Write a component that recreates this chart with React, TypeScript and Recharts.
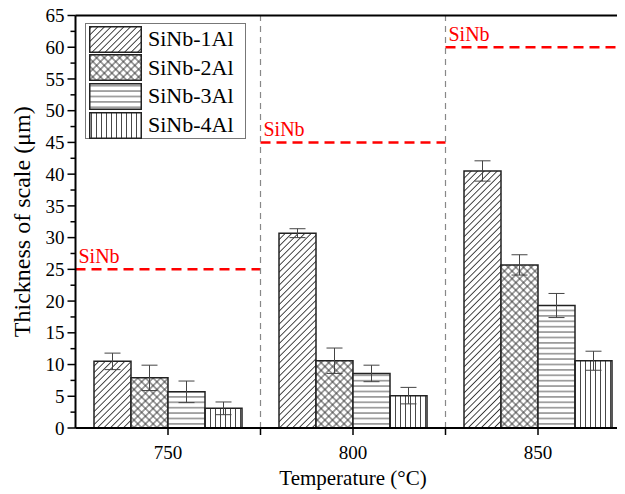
import React from 'react';
import {
  BarChart,
  Bar,
  XAxis,
  YAxis,
  CartesianGrid,
  ErrorBar,
  ReferenceLine,
  ReferenceArea,
  Legend,
} from 'recharts';

const temps = ['750', '800', '850'];
const seriesNames = ['SiNb-1Al', 'SiNb-2Al', 'SiNb-3Al', 'SiNb-4Al'];
const al1 = [10.5, 30.7, 40.5];
const al1Err = [1.3, 0.7, 1.6];
const al2 = [7.9, 10.6, 25.7];
const al2Err = [2.0, 2.0, 1.6];
const al3 = [5.7, 8.6, 19.3];
const al3Err = [1.7, 1.3, 1.9];
const al4 = [3.1, 5.1, 10.6];
const al4Err = [1.0, 1.3, 1.5];
// SiNb reference thickness per temperature
const sinbLevel = [25, 45, 60];
const majorTicks = [0, 5, 10, 15, 20, 25, 30, 35, 40, 45, 50, 55, 60, 65];
const allTicks = [
  0, 2.5, 5, 7.5, 10, 12.5, 15, 17.5, 20, 22.5, 25, 27.5, 30, 32.5, 35, 37.5, 40,
  42.5, 45, 47.5, 50, 52.5, 55, 57.5, 60, 62.5, 65,
];

const data = temps.map((t, i) => ({
  t,
  a1: al1[i],
  e1: al1Err[i],
  a2: al2[i],
  e2: al2Err[i],
  a3: al3[i],
  e3: al3Err[i],
  a4: al4[i],
  e4: al4Err[i],
}));

const FONT = '"Liberation Serif", "Times New Roman", serif';
const W = 640;
const H = 494;
const MARGIN = { top: 15.5, right: 17.5, bottom: 0, left: 0 };
const Y_W = 67.5;
const BAND = (W - MARGIN.left - MARGIN.right - Y_W) / temps.length;

function Patterns({ pre }: { pre: string }) {
  const ink = '#333';
  return (
    <defs>
      <pattern id={`${pre}1`} patternUnits="userSpaceOnUse" width={4.6} height={4.6} patternTransform="rotate(45)">
        <rect width={4.6} height={4.6} fill="#fff" />
        <line x1={2.3} y1={0} x2={2.3} y2={4.6} stroke={ink} strokeWidth={0.9} />
      </pattern>
      <pattern id={`${pre}2`} patternUnits="userSpaceOnUse" width={5.4} height={5.4} patternTransform="rotate(45)">
        <rect width={5.4} height={5.4} fill="#fff" />
        <line x1={2.7} y1={0} x2={2.7} y2={5.4} stroke={ink} strokeWidth={0.9} />
        <line x1={0} y1={2.7} x2={5.4} y2={2.7} stroke={ink} strokeWidth={0.9} />
      </pattern>
      <pattern id={`${pre}3`} patternUnits="userSpaceOnUse" width={10} height={5.4}>
        <rect width={10} height={5.4} fill="#fff" />
        <line x1={0} y1={2.7} x2={10} y2={2.7} stroke={ink} strokeWidth={0.9} />
      </pattern>
      <pattern id={`${pre}4`} patternUnits="userSpaceOnUse" width={5} height={10}>
        <rect width={5} height={10} fill="#fff" />
        <line x1={2.5} y1={0} x2={2.5} y2={10} stroke={ink} strokeWidth={0.9} />
      </pattern>
    </defs>
  );
}

function XTick(props: any) {
  const { x, y, payload } = props;
  return (
    <g>
      <line x1={x} y1={y} x2={x} y2={y + 7} stroke="#000" strokeWidth={1.5} />
      <line x1={x + BAND / 2} y1={y} x2={x + BAND / 2} y2={y + 7} stroke="#000" strokeWidth={1.5} />
      <text x={x} y={y + 31} textAnchor="middle" style={{ fontSize: 19, fontFamily: FONT }} fill="#000">
        {payload.value}
      </text>
    </g>
  );
}

function YTick(props: any) {
  const { x, y, payload } = props;
  const major = payload.value % 5 === 0;
  return (
    <g>
      <line x1={x} y1={y} x2={x - (major ? 8 : 5)} y2={y} stroke="#000" strokeWidth={1.5} />
      {major && (
        <text x={x - 11} y={y} dy="0.35em" textAnchor="end" style={{ fontSize: 19, fontFamily: FONT }} fill="#000">
          {payload.value}
        </text>
      )}
    </g>
  );
}

// dashed red level across one temperature band, drawn from the area's rect
function SinbLine(props: any) {
  const { x, y, width } = props;
  return (
    <g>
      <line x1={x} y1={y} x2={x + width} y2={y} stroke="#ff0000" strokeWidth={2.5} strokeDasharray="10 6" />
      <text x={x + 3} y={y - 6} style={{ fontSize: 20, fontFamily: FONT }} fill="#ff0000">
        SiNb
      </text>
    </g>
  );
}

function LegendBox() {
  return (
    <div
      style={{
        width: 161,
        height: 116,
        boxSizing: 'border-box',
        border: '1px solid #777',
        background: '#fff',
        padding: '1px 0 0 3px',
        fontFamily: FONT,
        fontSize: 22,
        color: '#000',
      }}
    >
      {seriesNames.map((n, i) => (
        <div key={n} style={{ display: 'flex', alignItems: 'center', height: 28.6 }}>
          <svg width={53} height={27} style={{ display: 'block' }}>
            <Patterns pre={`lg${i}-`} />
            <rect x={0.75} y={0.75} width={51.5} height={25.5} fill={`url(#lg${i}-${i + 1})`} stroke="#222" strokeWidth={1.5} />
          </svg>
          <span style={{ marginLeft: 6, lineHeight: 1 }}>{n}</span>
        </div>
      ))}
    </div>
  );
}

export default function App() {
  return (
    <div style={{ width: 617, height: H, marginTop: -8, overflow: 'hidden', background: '#fff' }}>
      <BarChart width={W} height={H} data={data} margin={MARGIN} barCategoryGap="10%" barGap={0}>
        <Patterns pre="p" />
        <YAxis yAxisId="g" domain={[0, 65]} ticks={majorTicks} hide />
        <CartesianGrid yAxisId="g" vertical={false} stroke="#888" strokeWidth={1.2} strokeDasharray="6 5" />
        <XAxis
          dataKey="t"
          tickLine={false}
          tickSize={0}
          tickMargin={0}
          tick={<XTick />}
          height={66}
          axisLine={{ stroke: '#000', strokeWidth: 2 }}
          label={(p: any) => {
            const vb = p.viewBox;
            return (
              <text
                x={vb.x + vb.width / 2}
                y={vb.y + 57}
                textAnchor="middle"
                style={{ fontSize: 21, fontFamily: FONT }}
                fill="#000"
              >
                Temperature (°C)
              </text>
            );
          }}
        />
        <YAxis
          domain={[0, 65]}
          ticks={allTicks}
          interval={0}
          tickLine={false}
          tickSize={0}
          tickMargin={0}
          tick={<YTick />}
          width={Y_W}
          axisLine={{ stroke: '#000', strokeWidth: 2 }}
          label={(p: any) => {
            const vb = p.viewBox;
            return (
              <text
                transform={`translate(${vb.x + 14}, ${vb.y + vb.height / 2}) rotate(-90)`}
                dy="0.35em"
                textAnchor="middle"
                style={{ fontSize: 24, fontFamily: FONT }}
                fill="#000"
              >
                Thickness of scale (μm)
              </text>
            );
          }}
        />
        <Legend
          layout="vertical"
          align="center"
          verticalAlign="middle"
          wrapperStyle={{ left: 77, top: 23, width: 'auto' }}
          content={() => <LegendBox />}
        />
        {temps.slice(1).map((t) => (
          <ReferenceLine key={t} x={t} position="start" stroke="#888" strokeWidth={1.2} strokeDasharray="6 5" />
        ))}
        {sinbLevel.map((v, i) => (
          <ReferenceArea
            key={i}
            x1={temps[i]}
            x2={temps[i]}
            y1={v}
            y2={v}
            ifOverflow="visible"
            shape={<SinbLine />}
          />
        ))}
        <ReferenceLine y={65} stroke="#000" strokeWidth={2} />
        <Bar dataKey="a1" name={seriesNames[0]} fill="url(#p1)" stroke="#222" strokeWidth={1.5} isAnimationActive={false}>
          <ErrorBar dataKey="e1" width={8} stroke="#444" strokeWidth={1} />
        </Bar>
        <Bar dataKey="a2" name={seriesNames[1]} fill="url(#p2)" stroke="#222" strokeWidth={1.5} isAnimationActive={false}>
          <ErrorBar dataKey="e2" width={8} stroke="#444" strokeWidth={1} />
        </Bar>
        <Bar dataKey="a3" name={seriesNames[2]} fill="url(#p3)" stroke="#222" strokeWidth={1.5} isAnimationActive={false}>
          <ErrorBar dataKey="e3" width={8} stroke="#444" strokeWidth={1} />
        </Bar>
        <Bar dataKey="a4" name={seriesNames[3]} fill="url(#p4)" stroke="#222" strokeWidth={1.5} isAnimationActive={false}>
          <ErrorBar dataKey="e4" width={8} stroke="#444" strokeWidth={1} />
        </Bar>
      </BarChart>
    </div>
  );
}
